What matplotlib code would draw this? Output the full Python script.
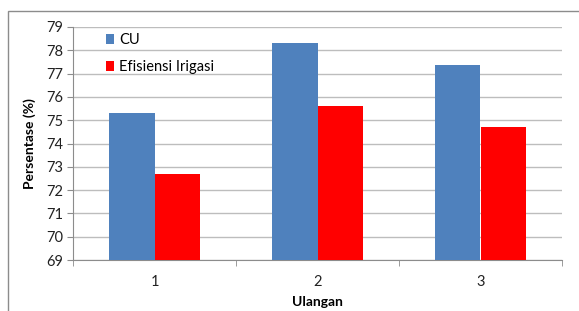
import numpy as np
import matplotlib
matplotlib.use('Agg')
import matplotlib.pyplot as plt
from matplotlib.patches import Rectangle

plt.rcParams['font.family'] = ['Lato', 'DejaVu Sans']

# data
ulangan = ['1', '2', '3']
cu = [75.3, 78.3, 77.35]
efisiensi = [72.7, 75.6, 74.7]
series_names = ['CU', 'Efisiensi Irigasi']

W, H = 579, 311
fig = plt.figure(figsize=(W / 100, H / 100), dpi=100, facecolor='white')

# outer chart border (cut off at right and bottom like the source)
fig.patches.append(Rectangle((8 / W, -0.1), 1.2, (H - 11) / H + 0.1,
                             transform=fig.transFigure, fill=False,
                             edgecolor='#8c8c8c', lw=1.0))

ax = fig.add_axes([73 / W, 1 - 260 / H, (562 - 73) / W, (260 - 27) / H])

x = np.arange(len(ulangan))
bw = 0.28
ax.bar(x - bw / 2, np.array(cu) - 69, bw, bottom=69, color='#4F81BD',
       label=series_names[0], zorder=3)
ax.bar(x + bw / 2, np.array(efisiensi) - 69, bw, bottom=69, color='#FF0000',
       label=series_names[1], zorder=3)

ax.set_xlim(-0.5, len(ulangan) - 0.5)
ax.set_ylim(69, 79)
ax.set_yticks(range(69, 80))
ax.set_xticks(x)
ax.set_xticklabels(ulangan)
ax.set_xticks(np.arange(-0.5, len(ulangan)), minor=True)
ax.tick_params(axis='x', which='major', length=0, pad=11, labelsize=10.5,
               colors='#222222')
ax.tick_params(axis='x', which='minor', length=4, direction='out',
               color='#8c8c8c')
ax.tick_params(axis='y', length=4, direction='out', color='#8c8c8c',
               labelsize=10.5, labelcolor='#222222', pad=3)

ax.yaxis.grid(True, color='#bdbdbd', lw=1.0, zorder=0)
ax.set_axisbelow(True)
for s in ['top', 'right']:
    ax.spines[s].set_visible(False)
for s in ['left', 'bottom']:
    ax.spines[s].set_color('#8c8c8c')

ax.set_ylabel('Persentase (%)', fontsize=10, fontweight='bold', labelpad=7)
ax.set_xlabel('Ulangan', fontsize=10, fontweight='bold', labelpad=5)

ax.legend(loc='upper left', bbox_to_anchor=(0.04, 1.03), frameon=False,
          handlelength=0.6, handleheight=0.6, handletextpad=0.3,
          labelspacing=0.9, fontsize=10.5)

fig.savefig('out.png', dpi=100, facecolor='white')
